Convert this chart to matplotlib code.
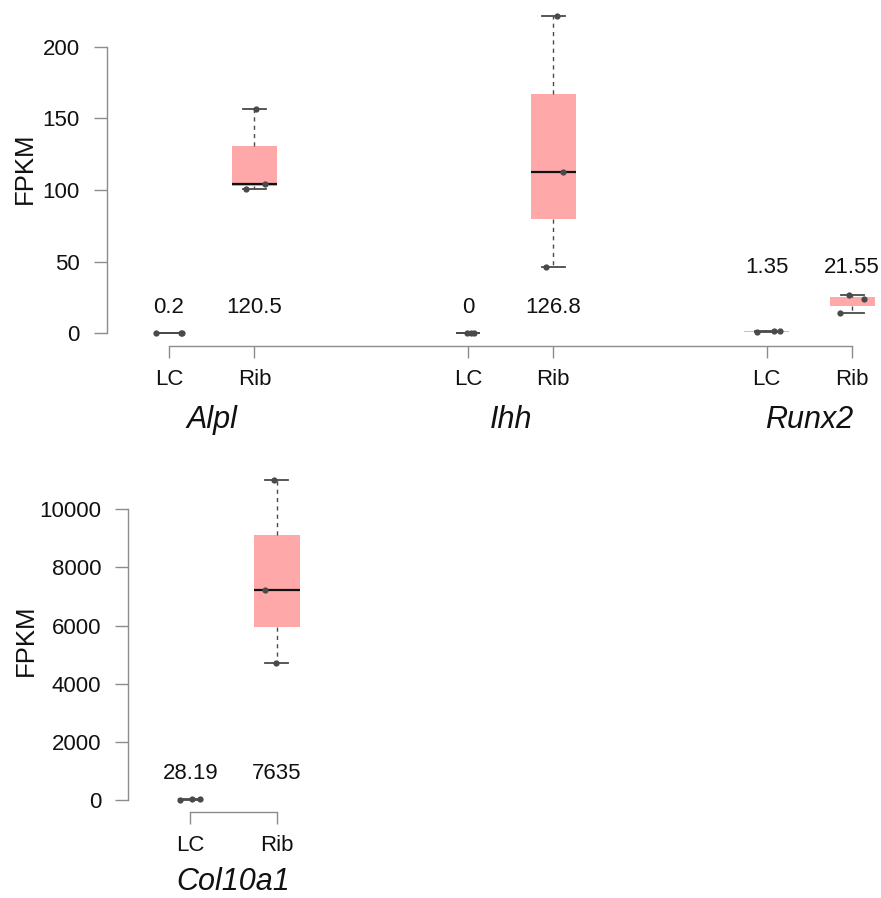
import matplotlib
matplotlib.use("Agg")
import matplotlib.pyplot as plt
import numpy as np

plt.rcParams['font.family'] = ['Liberation Sans', 'DejaVu Sans']

# ---------------- data ----------------
top_genes = ['Alpl', 'Ihh', 'Runx2']
groups = ['LC', 'Rib']

alpl_lc = [0.15, 0.2, 0.25]
alpl_rib = [100.5, 104.5, 156.5]
ihh_lc = [0.0, 0.0, 0.0]
ihh_rib = [46.4, 112.5, 221.5]
runx2_lc = [1.1, 1.4, 1.55]
runx2_rib = [13.9, 23.9, 26.85]

bottom_gene = 'Col10a1'
col10a1_lc = [22.5, 28.5, 33.57]
col10a1_rib = [4710, 7205, 10990]

top_mean_labels = ['0.2', '120.5', '0', '126.8', '1.35', '21.55']
bottom_mean_labels = ['28.19', '7635']

top_yticks = [0, 50, 100, 150, 200]
bottom_yticks = [0, 2000, 4000, 6000, 8000, 10000]

# horizontal jitter of the points (x units, relative to group centre)
top_jitter = [[-0.15, 0.14, 0.15], [-0.10, 0.12, 0.02],
              [-0.01, 0.04, 0.07], [-0.09, 0.11, 0.04],
              [-0.11, 0.08, 0.16], [-0.14, 0.14, -0.04]]
bottom_jitter = [[-0.12, 0.02, 0.11], [-0.01, -0.14, -0.03]]

# ---------------- style ----------------
W, H = 881, 898
BOX = '#FFA8A9'
DARK = '#4A4A4A'
AXC = '#8C8C8C'
TXT = '#111111'
FS = 16

fig = plt.figure(figsize=(W / 100, H / 100), dpi=100)


def add_axes_px(left, top, right, bottom):
    return fig.add_axes([left / W, 1 - bottom / H, (right - left) / W, (bottom - top) / H])


def draw_panel(ax, data, positions, jitter, mean_labels, lifts, yticks, genes, gene_drop,
               px_unit, hide_medians):
    bp = ax.boxplot(data, positions=positions, widths=0.53, whis=1.5, patch_artist=True,
                    showfliers=False, capwidths=0.265,
                    boxprops=dict(facecolor=BOX, edgecolor='none', linewidth=0),
                    whiskerprops=dict(color=DARK, linestyle=(0, (3, 3)), linewidth=1.0),
                    capprops=dict(color=DARK, linewidth=1.3),
                    medianprops=dict(color='#111111', linewidth=1.6))
    for i in hide_medians:
        bp['medians'][i].set_visible(False)
    for vals, p, jit in zip(data, positions, jitter):
        ax.plot(np.array(jit) + p, vals, 'o', color=DARK, markersize=4.5, zorder=5,
                markeredgewidth=0)
    for lab, p, lift in zip(mean_labels, positions, lifts):
        ax.annotate(lab, xy=(p, 0), xycoords='data', xytext=(0, lift),
                    textcoords='offset points', ha='center', va='center',
                    fontsize=FS, color=TXT)
    for k, g in enumerate(genes):
        mid = (positions[2 * k] + positions[2 * k + 1]) / 2
        ax.annotate(g, xy=(mid, 0), xycoords=('data', 'axes fraction'),
                    xytext=(0, -gene_drop), textcoords='offset points',
                    ha='center', va='center', fontsize=22, style='italic', color=TXT)
    allv = np.concatenate([np.asarray(d, float) for d in data])
    lo, hi = allv.min(), allv.max()
    pad = 0.04 * (hi - lo)
    ax.set_ylim(lo - pad, hi + pad)
    xmin = positions[0] - 62 / px_unit
    wpx = ax.get_position().width * W
    ax.set_xlim(xmin, xmin + wpx / px_unit)
    for s in ['top', 'right']:
        ax.spines[s].set_visible(False)
    for s in ['left', 'bottom']:
        ax.spines[s].set_color(AXC)
        ax.spines[s].set_linewidth(1.0)
    ax.spines['left'].set_bounds(yticks[0], yticks[-1])
    ax.spines['bottom'].set_bounds(positions[0], positions[-1])
    ax.set_yticks(yticks)
    ax.set_yticklabels([str(t) for t in yticks])
    ax.set_xticks(positions)
    ax.set_xticklabels(groups * len(genes))
    ax.tick_params(axis='y', direction='out', length=9.5, width=1.0, color=AXC,
                   pad=10, labelsize=FS, labelcolor=TXT)
    ax.tick_params(axis='x', direction='out', length=8.6, width=1.0, color=AXC,
                   pad=8, labelsize=FS, labelcolor=TXT)
    ax.patch.set_alpha(0)


# top panel
ax1 = add_axes_px(107, 3.2, 881, 346)
top_data = [alpl_lc, alpl_rib, ihh_lc, ihh_rib, runx2_lc, runx2_rib]
top_pos = [1, 2, 4.5, 5.5, 8, 9]
draw_panel(ax1, top_data, top_pos, top_jitter, top_mean_labels,
           [18.7, 18.7, 18.7, 18.7, 47.5, 47.5], top_yticks, top_genes, 53.3, 85.4,
           [0, 2, 4, 5])

# bottom panel
ax2 = add_axes_px(128.3, 467.5, 400, 812.3)
bottom_data = [col10a1_lc, col10a1_rib]
bottom_pos = [1, 2]
draw_panel(ax2, bottom_data, bottom_pos, bottom_jitter, bottom_mean_labels,
           [19.0, 19.0], bottom_yticks, [bottom_gene], 50, 86.6, [0])

fig.text(25 / W, 1 - 168 / H, 'FPKM', rotation=90, ha='center', va='center',
         fontsize=18.5, color=TXT)
fig.text(25.5 / W, 1 - 640 / H, 'FPKM', rotation=90, ha='center', va='center',
         fontsize=18.5, color=TXT)

fig.savefig('out.png', dpi=100, facecolor='white')
